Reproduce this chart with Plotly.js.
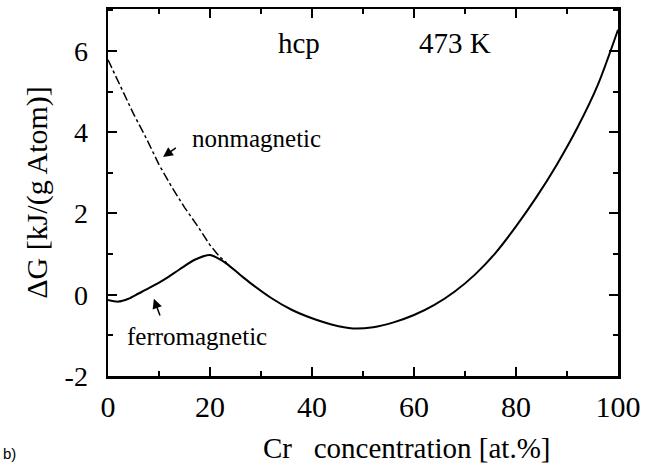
<!DOCTYPE html>
<html>
<head>
<meta charset="utf-8">
<script src="https://cdn.plot.ly/plotly-3.0.1.min.js"></script>
<style>html,body{margin:0;padding:0;background:#fff;}#chart{width:656px;height:466px;}</style>
</head>
<body>
<div id="chart"></div>
<script>
// Nonmagnetic (dash-dot) branch
const nonmagX = [0, 2.5, 5, 7.5, 10, 12.5, 15, 17.5, 20, 22, 23.3];
const nonmagY = [5.78, 5.1, 4.45, 3.85, 3.2, 2.65, 2.15, 1.7, 1.22, 0.92, 0.78];
// Ferromagnetic / overall (solid) curve
const ferroX = [0, 2, 4, 6, 8, 11, 14, 17, 20, 21.5, 23.3, 26, 28, 32, 36, 40, 44, 48, 52, 56, 60, 64, 68, 72, 76, 80, 84, 88, 92, 96, 100];
const ferroY = [-0.13, -0.17, -0.1, 0.03, 0.16, 0.37, 0.62, 0.86, 0.98, 0.9, 0.76, 0.48, 0.28, -0.08, -0.37, -0.58, -0.74, -0.83, -0.80, -0.68, -0.50, -0.25, 0.08, 0.50, 1.03, 1.68, 2.40, 3.20, 4.10, 5.15, 6.52];
const xTicks = [0, 20, 40, 60, 80, 100];
const yTicks = [-2, 0, 2, 4, 6];

const serif = 'Liberation Serif, Times New Roman, serif';
const traces = [
  {x: nonmagX, y: nonmagY, mode: 'lines', line: {color: '#000', width: 1.5, dash: 'dashdot'}, hoverinfo: 'skip'},
  {x: ferroX, y: ferroY, mode: 'lines', line: {color: '#000', width: 2, shape: 'spline', smoothing: 0.8}, hoverinfo: 'skip'}
];
const axisCommon = {
  showgrid: false, zeroline: false, showline: true, linecolor: '#000', linewidth: 2.5,
  mirror: 'ticks', ticks: 'inside', tickcolor: '#000', tickwidth: 2, ticklen: 9
};
const layout = {
  width: 656, height: 466,
  margin: {l: 108, r: 38, t: 9, b: 90},
  paper_bgcolor: '#fff', plot_bgcolor: '#fff',
  showlegend: false,
  font: {family: serif, color: '#000'},
  xaxis: Object.assign({}, axisCommon, {
    range: [0, 100], tickmode: 'array', tickvals: xTicks, ticktext: xTicks.map(String),
    tickfont: {family: serif, size: 30, color: '#000'}, ticklabelstandoff: 2,
    minor: {dtick: 10, ticks: 'inside', ticklen: 5, tickwidth: 2, tickcolor: '#000'}
  }),
  yaxis: Object.assign({}, axisCommon, {
    range: [-2, 7.03], tickmode: 'array', tickvals: yTicks, ticktext: yTicks.map(String),
    tickfont: {family: serif, size: 28, color: '#000'}, ticklabelstandoff: 12,
    minor: {dtick: 1, ticks: 'inside', ticklen: 5, tickwidth: 2, tickcolor: '#000'},
    title: {text: '\u0394G [kJ/(g Atom)]', font: {family: serif, size: 30, color: '#000'}, standoff: 8}
  }),
  annotations: [
    {xref: 'paper', yref: 'paper', x: 0.585, y: -0.195, xanchor: 'center', yanchor: 'middle', showarrow: false,
     text: 'Cr\u00A0\u00A0\u00A0concentration [at.%]', font: {family: serif, size: 29, color: '#000'}},
    {xref: 'paper', yref: 'paper', x: -0.21, y: -0.21, xanchor: 'left', yanchor: 'middle', showarrow: false,
     text: 'b)', font: {family: 'Liberation Sans, Arial, sans-serif', size: 15, color: '#000'}},
    {xref: 'x', yref: 'y', x: 37.5, y: 6.2, showarrow: false, text: 'hcp', font: {family: serif, size: 29, color: '#000'}},
    {xref: 'x', yref: 'y', x: 68, y: 6.2, showarrow: false, text: '473 K', font: {family: serif, size: 29, color: '#000'}},
    {xref: 'x', yref: 'y', x: 29.2, y: 3.85, showarrow: false, text: 'nonmagnetic', font: {family: serif, size: 25, color: '#000'}},
    {xref: 'x', yref: 'y', x: 17.5, y: -1.02, showarrow: false, text: 'ferromagnetic', font: {family: serif, size: 25, color: '#000'}},
    {xref: 'x', yref: 'y', x: 10.8, y: 3.39, ax: 13.6, ay: 3.64, axref: 'x', ayref: 'y', text: '', showarrow: true,
     arrowhead: 2, arrowsize: 1.3, arrowwidth: 1.5, arrowcolor: '#000'},
    {xref: 'x', yref: 'y', x: 9.0, y: -0.1, ax: 10.3, ay: -0.55, axref: 'x', ayref: 'y', text: '', showarrow: true,
     arrowhead: 2, arrowsize: 1.3, arrowwidth: 1.5, arrowcolor: '#000'}
  ]
};
Plotly.newPlot('chart', traces, layout, {displayModeBar: false, staticPlot: true});
</script>
</body>
</html>
